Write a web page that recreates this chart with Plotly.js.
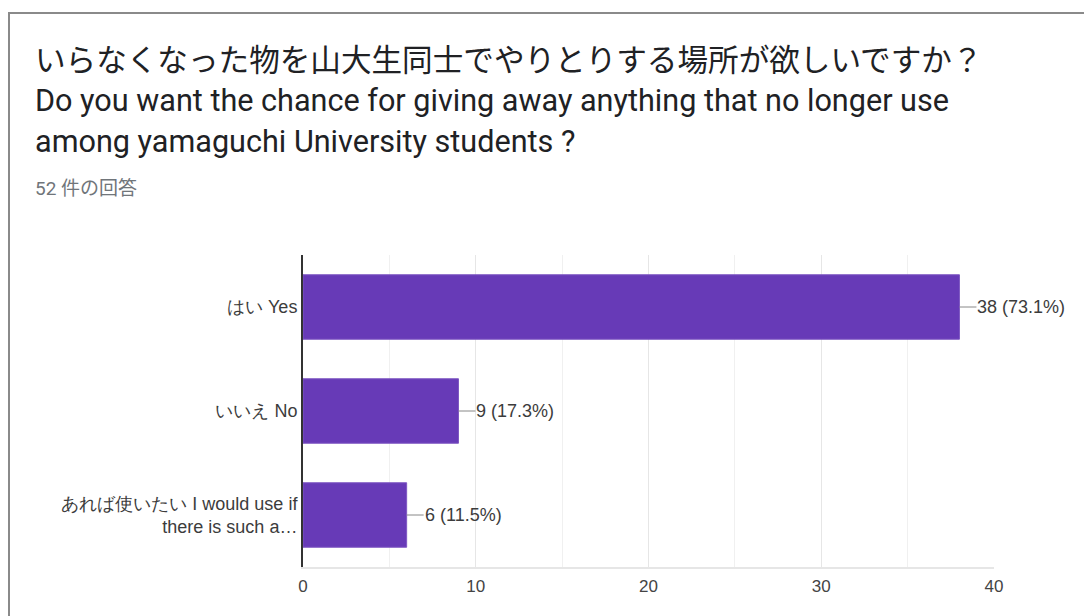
<!DOCTYPE html>
<html>
<head>
<meta charset="utf-8">
<script src="https://cdn.plot.ly/plotly-3.0.1.min.js"></script>
<style>
  html, body { margin:0; padding:0; background:#fff; }
  #wrap { position:relative; width:1084px; height:616px; overflow:hidden; }
  #chart { position:absolute; left:0; top:0; width:1084px; height:616px; }
  #frame { position:absolute; left:8px; top:12px; width:1200px; height:700px;
           border-left:2px solid #8a8a8a; border-top:2px solid #8a8a8a; pointer-events:none; }
</style>
</head>
<body>
<div id="wrap">
  <div id="chart"></div>
  <div id="frame"></div>
</div>
<script>
const titleLines = [
  "いらなくなった物を山大生同士でやりとりする場所が欲しいですか？",
  "Do you want the chance for giving away anything that no longer use",
  "among yamaguchi University students ?"
];
const subtitle = "52 件の回答";
const categories = ["はい Yes", "いいえ No", "あれば使いたい I would use if<br>there is such a…"];
const counts = [38, 9, 6];
const percents = ["73.1%", "17.3%", "11.5%"];
const tickVals = [0, 10, 20, 30, 40];

const barColor = "#673ab7";
const labelFont = { family: "Liberation Sans, Arial, sans-serif", size: 18, color: "#3c3c3c" };
const xTickFont = { family: "Liberation Sans, Arial, sans-serif", size: 17, color: "#444" };

const trace = {
  type: "bar",
  orientation: "h",
  y: categories,
  x: counts,
  marker: { color: barColor, line: { color: "#7e57c2", width: 1 } },
  hoverinfo: "none"
};

const valueAnns = counts.map((c, i) => ({
  xref: "x", yref: "y", x: c, y: categories[i],
  text: c + " (" + percents[i] + ")",
  showarrow: true, arrowhead: 0, arrowwidth: 1, arrowcolor: "#888",
  ax: 17, ay: 0, standoff: 0, startstandoff: 0,
  xanchor: "left", yanchor: "middle", borderpad: 0,
  font: labelFont
}));

const W = 1084, H = 616;
const margin = { l: 303, r: 90, t: 255, b: 49 };
function px2paperX(px) { return (px - margin.l) / (W - margin.l - margin.r); }
function py2paperY(py) { return 1 - (py - margin.t) / (H - margin.t - margin.b); }

const titleAnns = [
  { text: titleLines[0], px: 33, py: 58, font: { family: "Noto Sans CJK JP, Roboto, sans-serif", size: 30.6, color: "#202124" } },
  { text: titleLines[1], px: 33, py: 100, font: { family: "Roboto, Noto Sans CJK JP, sans-serif", size: 30.6, color: "#202124" } },
  { text: titleLines[2], px: 33, py: 141, font: { family: "Roboto, Noto Sans CJK JP, sans-serif", size: 30.6, color: "#202124" } },
  { text: subtitle, px: 33, py: 188, font: { family: "Roboto, Noto Sans CJK JP, sans-serif", size: 19, color: "#70757a" } }
].map(a => ({
  xref: "paper", yref: "paper", x: px2paperX(a.px), y: py2paperY(a.py),
  text: a.text, showarrow: false, xanchor: "left", yanchor: "middle", font: a.font
}));

const layout = {
  width: W, height: H,
  margin: margin,
  paper_bgcolor: "rgba(0,0,0,0)",
  plot_bgcolor: "#fff",
  showlegend: false,
  bargap: 0.38,
  xaxis: {
    range: [0, 40],
    tickvals: tickVals,
    ticktext: tickVals.map(String),
    showgrid: true, gridcolor: "#e6e6e6", gridwidth: 1,
    minor: { dtick: 5, showgrid: true, gridcolor: "#f0f0f0", gridwidth: 1 },
    zeroline: false,
    showline: true, linecolor: "#e6e6e6", linewidth: 2, mirror: false,
    ticks: "", ticklen: 0, ticklabelstandoff: 3,
    tickfont: xTickFont,
    fixedrange: true
  },
  yaxis: {
    autorange: "reversed",
    type: "category",
    showgrid: false, zeroline: false,
    showline: true, linecolor: "#333", linewidth: 2,
    ticks: "", ticklabelstandoff: 0,
    tickfont: labelFont,
    fixedrange: true
  },
  annotations: titleAnns.concat(valueAnns),
  font: labelFont
};

Plotly.newPlot("chart", [trace], layout, { displayModeBar: false, staticPlot: true });
</script>
</body>
</html>
